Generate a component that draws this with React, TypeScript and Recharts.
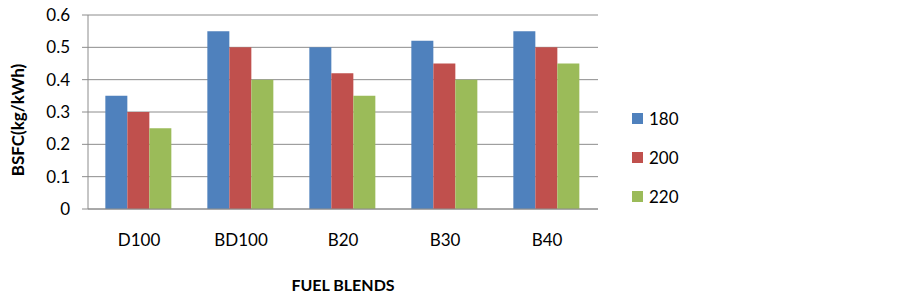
import React from 'react';
import { BarChart, Bar, XAxis, YAxis, CartesianGrid } from 'recharts';

const blends = ['D100', 'BD100', 'B20', 'B30', 'B40'];
const bsfc180 = [0.35, 0.55, 0.5, 0.52, 0.55];
const bsfc200 = [0.3, 0.5, 0.42, 0.45, 0.5];
const bsfc220 = [0.25, 0.4, 0.35, 0.4, 0.45];
const yTicks = [0, 0.1, 0.2, 0.3, 0.4, 0.5, 0.6];

const data = blends.map((b, i) => ({
  blend: b,
  s180: bsfc180[i],
  s200: bsfc200[i],
  s220: bsfc220[i],
}));

const series = [
  { key: 's180', name: '180', color: '#4f81bd' },
  { key: 's200', name: '200', color: '#c0504d' },
  { key: 's220', name: '220', color: '#9bbb59' },
];

const FONT = 'Lato, "Open Sans", sans-serif';

// legend sits to the right of the plot, outside recharts' layout
const LegendBox = () => (
  <div style={{ position: 'absolute', left: 632, top: 99, fontFamily: FONT, fontSize: 17, color: '#000' }}>
    {series.map((s) => (
      <div key={s.key} style={{ display: 'flex', alignItems: 'center', height: 39 }}>
        <span style={{ width: 11, height: 11, background: s.color, display: 'inline-block', marginRight: 6 }} />
        <span>{s.name}</span>
      </div>
    ))}
  </div>
);

export default function App() {
  return (
    <div style={{ position: 'absolute', left: 0, top: 0, width: 900, height: 296, background: '#fff' }}>
      <BarChart
        width={900}
        height={296}
        data={data}
        margin={{ top: 15, right: 302, bottom: 0, left: 0 }}
        barCategoryGap="17%"
        barGap={0}
      >
        <CartesianGrid horizontal vertical={false} stroke="#8c8c8c" strokeWidth={1} />
        <XAxis
          dataKey="blend"
          height={87}
          axisLine={{ stroke: '#8c8c8c' }}
          tickLine={false}
          tickSize={0}
          tickMargin={25}
          tick={{ fontSize: 17, fill: '#000', fontFamily: FONT }}
          label={{
            value: 'FUEL BLENDS',
            position: 'insideBottom',
            offset: 5,
            style: { fontSize: 16, fontWeight: 700, fill: '#000', fontFamily: FONT },
          }}
        />
        <YAxis
          width={88}
          domain={[0, 0.6]}
          ticks={yTicks}
          interval={0}
          axisLine={{ stroke: '#8c8c8c' }}
          tickLine={{ stroke: '#8c8c8c' }}
          tickSize={6}
          tickMargin={12}
          tickFormatter={(v: number) => (v === 0 ? '0' : v.toFixed(1))}
          tick={{ fontSize: 17, fill: '#000', fontFamily: FONT }}
          label={{
            value: 'BSFC(kg/kWh)',
            angle: -90,
            position: 'insideLeft',
            offset: 18,
            dy: 8,
            style: { fontSize: 17, fontWeight: 700, fill: '#000', fontFamily: FONT, textAnchor: 'middle' },
          }}
        />
        {series.map((s) => (
          <Bar key={s.key} dataKey={s.key} name={s.name} fill={s.color} isAnimationActive={false} />
        ))}
      </BarChart>
      <LegendBox />
    </div>
  );
}
